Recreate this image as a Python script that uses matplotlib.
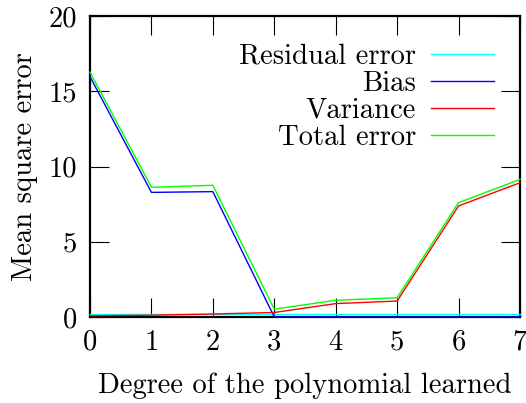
import matplotlib
matplotlib.use("Agg")
import matplotlib.pyplot as plt

degrees = [0, 1, 2, 3, 4, 5, 6, 7]
residual = [0.22, 0.22, 0.22, 0.22, 0.22, 0.22, 0.22, 0.22]
bias = [15.97, 8.28, 8.33, 0.0, 0.0, 0.0, 0.0, 0.0]
variance = [0.08, 0.12, 0.2, 0.3, 0.89, 1.06, 7.38, 8.92]
total = [16.27, 8.62, 8.75, 0.52, 1.11, 1.28, 7.6, 9.14]
xticks = [0, 1, 2, 3, 4, 5, 6, 7]
yticks = [0, 5, 10, 15, 20]

plt.rcParams['font.family'] = ['cmr10', 'DejaVu Serif']
plt.rcParams['axes.formatter.use_mathtext'] = True
fs = 20.6

fig = plt.figure(figsize=(5.26, 4.03), dpi=100)
ax = fig.add_axes([90/526, 1 - 317/403, 430/526, 301/403])

series = [("Residual error", residual, "#00ffff"),
          ("Bias", bias, "#0000ff"),
          ("Variance", variance, "#ff0000"),
          ("Total error", total, "#00ff00")]
for name, vals, col in series:
    ax.plot(degrees, vals, color=col, lw=1.0, label=name, clip_on=False, zorder=3)

ax.set_xlim(0, 7)
ax.set_ylim(0, 20)
ax.set_xticks(xticks)
ax.set_yticks(yticks)
ax.set_xticklabels([str(t) for t in xticks], fontsize=fs)
ax.set_yticklabels([str(t) for t in yticks], fontsize=fs)
ax.tick_params(direction='in', length=13.5, width=0.8, top=True, right=True,
               pad=9, colors='black')
ax.tick_params(axis='y', pad=9)
for s in ax.spines.values():
    s.set_linewidth(1.6)
ax.set_xlabel("Degree of the polynomial learned", fontsize=fs, labelpad=12)
ax.set_ylabel("Mean square error", fontsize=fs, labelpad=8)

leg = ax.legend(loc='upper right', bbox_to_anchor=(494/526, 1 - 43.5/403),
                bbox_transform=fig.transFigure, frameon=False, markerfirst=False,
                fontsize=fs, handlelength=63/(fs*100/72), handletextpad=14.7/(fs*100/72),
                borderpad=0, borderaxespad=0, labelspacing=0.02)

fig.savefig("out.png", dpi=100)
